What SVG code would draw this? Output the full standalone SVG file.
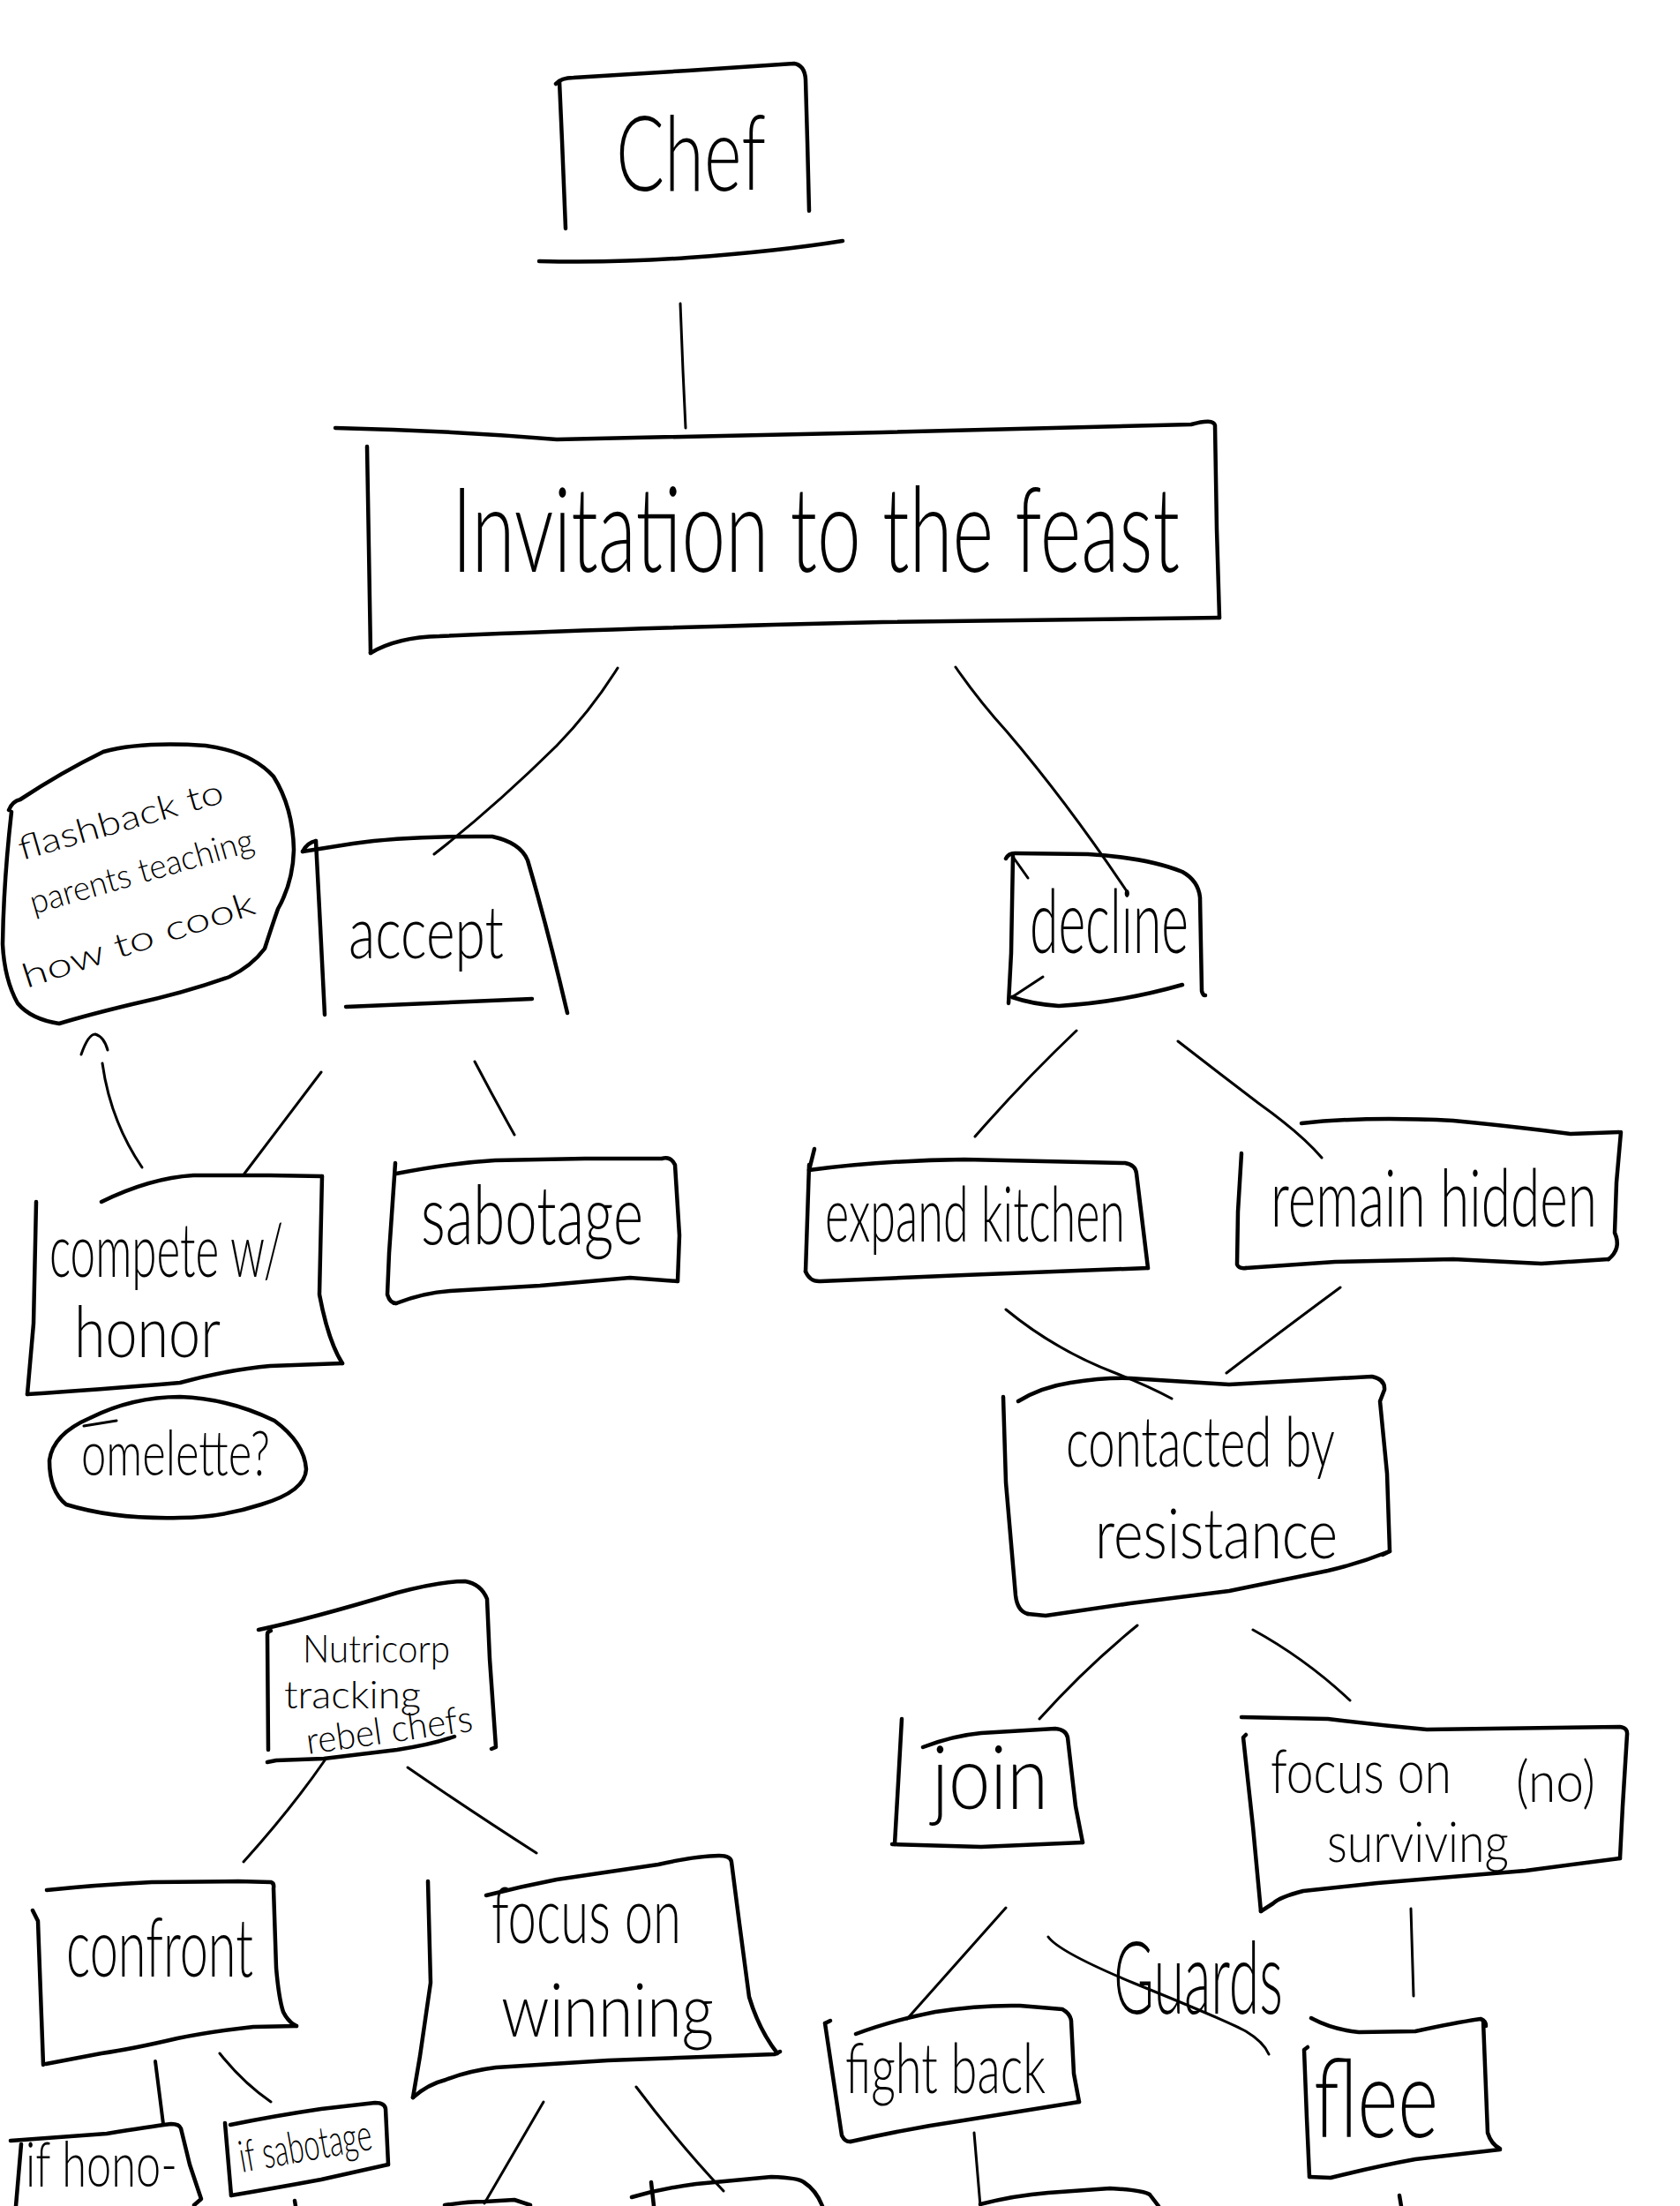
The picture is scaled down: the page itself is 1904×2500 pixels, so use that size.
<svg xmlns="http://www.w3.org/2000/svg" width="1904" height="2500" viewBox="0 0 1904 2500">
<style>
.b{fill:none;stroke:#000;stroke-width:4.5;stroke-linecap:round;stroke-linejoin:round}
.c{fill:none;stroke:#000;stroke-width:3;stroke-linecap:round;stroke-linejoin:round}
.t{font-family:Lato,"Open Sans","DejaVu Sans",sans-serif;font-weight:300;fill:#000}
</style>
<rect width="1904" height="2500" fill="#fff"/>
<g id="connectors">
<path class="c" d="M771,344 L774,420 L777,485"/>
<path class="c" d="M700,757 Q670,805 631,845 Q560,915 492,968"/>
<path class="c" d="M1083,756 Q1110,795 1141,829 Q1210,910 1277,1010"/>
<path class="c" d="M364,1215 L277,1330"/>
<path class="c" d="M538,1203 Q560,1245 583,1286"/>
<path class="c" d="M1220,1168 Q1160,1225 1105,1288"/>
<path class="c" d="M1335,1180 Q1380,1215 1426,1250 Q1475,1285 1498,1312"/>
<path class="c" d="M1140,1484 Q1196,1530 1264,1556 Q1300,1570 1328,1585"/>
<path class="c" d="M1519,1459 Q1450,1510 1390,1556"/>
<path class="c" d="M1289,1842 Q1230,1890 1178,1948"/>
<path class="c" d="M1420,1847 Q1480,1880 1530,1927"/>
<path class="c" d="M368,1995 Q330,2050 276,2110"/>
<path class="c" d="M462,2003 Q530,2050 608,2100"/>
<path class="c" d="M176,2336 L185,2407" style="stroke-width:4"/>
<path class="c" d="M249,2327 Q275,2360 307,2382"/>
<path class="c" d="M616,2382 L549,2497"/>
<path class="c" d="M721,2365 Q770,2430 820,2483"/>
<path class="c" d="M1140,2162 L1028,2288"/>
<path class="c" d="M1599,2163 L1602,2262"/>
<path class="c" d="M1104,2417 L1111,2500"/>
<path class="c" d="M1188,2195 Q1200,2212 1284,2247 Q1390,2290 1412,2302 Q1432,2314 1438,2328"/>
<path class="c" d="M161,1323 Q125,1270 116,1205"/>
<path class="c" d="M92,1195 Q100,1172 108,1172 Q118,1175 122,1190"/>
</g>
<g id="chef">
<path class="b" d="M634,92 L637,160 L641,259"/>
<path class="b" d="M630,95 Q636,88 650,88 L780,80 L900,72 Q912,74 913,90 L915,160 L917,239"/>
<path class="b" d="M611,296 Q700,298 780,292 Q880,285 955,273"/>
<text class="t" x="698" y="216" font-size="118" textLength="170" lengthAdjust="spacingAndGlyphs">Chef</text>
</g>
<g id="invitation">
<path class="b" d="M380,485 Q510,488 631,498 L1000,490 L1350,481 Q1375,474 1377,482 L1379,600 L1382,700"/>
<path class="b" d="M416,506 L418,620 L420,740"/>
<path class="b" d="M420,740 Q450,722 498,721 Q700,712 1000,705 L1382,700"/>
<text class="t" x="512" y="648" font-size="135" textLength="825" lengthAdjust="spacingAndGlyphs">Invitation to the feast</text>
</g>
<g id="flashback">
<path class="b" d="M10,918 Q14,908 23,906 Q70,875 117,852 Q160,840 233,845 Q285,852 310,880 Q332,915 333,963 Q332,1000 315,1030 Q308,1050 300,1075 Q285,1095 260,1107 Q210,1125 150,1138 Q100,1150 67,1160 Q35,1155 20,1137 Q5,1110 3,1070 Q4,1000 13,920"/>
<text class="t" font-size="38" textLength="240" lengthAdjust="spacingAndGlyphs" transform="translate(25,975) rotate(-16)">flashback to</text>
<text class="t" font-size="38" textLength="262" lengthAdjust="spacingAndGlyphs" transform="translate(38,1036) rotate(-16)">parents teaching</text>
<text class="t" font-size="38" textLength="275" lengthAdjust="spacingAndGlyphs" transform="translate(30,1120) rotate(-18)">how to cook</text>
</g>
<g id="accept">
<path class="b" d="M343,965 Q348,955 358,953"/>
<path class="b" d="M343,965 L400,956 Q460,947 558,948 Q590,955 598,975 Q620,1050 643,1148"/>
<path class="b" d="M358,953 L363,1050 L368,1150"/>
<path class="b" d="M392,1141 L603,1132"/>
<text class="t" x="395" y="1086" font-size="82" textLength="176" lengthAdjust="spacingAndGlyphs">accept</text>
</g>
<g id="decline">
<path class="b" d="M1140,973 Q1143,967 1150,967 L1233,968 Q1300,972 1340,988 Q1358,998 1360,1017 L1362,1123 Q1363,1128 1366,1128"/>
<path class="b" d="M1148,970 L1146,1080 L1143,1137"/>
<path class="c" d="M1148,971 L1165,995"/>
<path class="b" d="M1147,1130 Q1170,1138 1200,1140 Q1270,1136 1340,1116"/>
<path class="c" d="M1147,1130 L1182,1107"/>
<text class="t" x="1167" y="1080" font-size="100" textLength="180" lengthAdjust="spacingAndGlyphs">decline</text>
</g>
<g id="compete">
<path class="b" d="M115,1362 Q170,1335 219,1332 L306,1332 L365,1333"/>
<path class="b" d="M365,1333 L362,1467 Q372,1520 388,1545"/>
<path class="b" d="M41,1362 L38,1500 L31,1580"/>
<path class="b" d="M31,1580 Q110,1575 204,1567 Q260,1552 306,1548 L388,1545"/>
<text class="t" x="56" y="1447" font-size="85" textLength="265" lengthAdjust="spacingAndGlyphs">compete w/</text>
<text class="t" x="84" y="1538" font-size="80" textLength="166" lengthAdjust="spacingAndGlyphs">honor</text>
</g>
<g id="omelette">
<path class="b" d="M102,1607 Q150,1583 204,1583 Q260,1585 311,1610 Q345,1635 347,1665 Q346,1690 296,1705 Q250,1720 204,1720 Q130,1722 75,1705 Q56,1690 56,1655 Q60,1625 102,1607 Z"/>
<path class="c" d="M95,1616 L132,1610"/>
<text class="t" x="92" y="1672" font-size="70" textLength="214" lengthAdjust="spacingAndGlyphs">omelette?</text>
</g>
<g id="sabotage">
<path class="b" d="M449,1330 Q510,1318 561,1315 L663,1313 L750,1313 Q760,1310 765,1320 L770,1400 L768,1452"/>
<path class="b" d="M448,1318 L441,1420 L439,1467 Q442,1477 449,1477"/>
<path class="b" d="M449,1477 Q480,1465 510,1463 L612,1457 L714,1448 L768,1452"/>
<text class="t" x="477" y="1410" font-size="92" textLength="252" lengthAdjust="spacingAndGlyphs">sabotage</text>
</g>
<g id="expand-kitchen">
<path class="b" d="M923,1302 L917,1326"/>
<path class="b" d="M917,1326 Q1000,1315 1093,1314 L1275,1318 Q1287,1320 1288,1330 L1301,1437"/>
<path class="b" d="M917,1320 L913,1441"/>
<path class="b" d="M913,1441 Q918,1453 930,1452 L1093,1445 L1301,1437"/>
<text class="t" x="935" y="1407" font-size="86" textLength="340" lengthAdjust="spacingAndGlyphs">expand kitchen</text>
</g>
<g id="remain-hidden">
<path class="b" d="M1475,1273 Q1547,1265 1647,1270 Q1720,1277 1780,1285 L1835,1283"/>
<path class="b" d="M1837,1283 L1832,1340 L1830,1397 Q1838,1415 1823,1427"/>
<path class="b" d="M1407,1307 L1403,1373 L1402,1433 Q1404,1438 1412,1437"/>
<path class="b" d="M1412,1437 L1513,1430 L1647,1427 L1747,1432 L1823,1427"/>
<text class="t" x="1440" y="1390" font-size="90" textLength="370" lengthAdjust="spacingAndGlyphs">remain hidden</text>
</g>
<g id="contacted">
<path class="b" d="M1154,1588 Q1180,1572 1213,1567 Q1250,1561 1281,1562 L1393,1569 L1555,1560 Q1570,1563 1569,1575 L1564,1588 L1572,1670 L1575,1758 L1567,1762"/>
<path class="b" d="M1137,1583 L1140,1680 L1151,1808 Q1153,1826 1165,1829"/>
<path class="b" d="M1575,1758 Q1540,1772 1505,1780 L1393,1803 L1281,1817 L1185,1831 L1165,1829"/>
<text class="t" x="1208" y="1662" font-size="78" textLength="305" lengthAdjust="spacingAndGlyphs">contacted by</text>
<text class="t" x="1241" y="1766" font-size="78" textLength="275" lengthAdjust="spacingAndGlyphs">resistance</text>
</g>
<g id="nutricorp">
<path class="b" d="M293,1847 Q350,1835 450,1805 Q500,1792 527,1792 Q545,1795 552,1812 L555,1880 L562,1980 L557,1982"/>
<path class="b" d="M307,1848 Q303,1849 303,1852 L304,1983"/>
<path class="b" d="M303,1997 L313,1995 L367,1993 L450,1983 Q490,1977 515,1968"/>
<text class="t" x="343" y="1884" font-size="44" textLength="167" lengthAdjust="spacingAndGlyphs">Nutricorp</text>
<text class="t" x="322" y="1936" font-size="44" textLength="155" lengthAdjust="spacingAndGlyphs">tracking</text>
<text class="t" font-size="42" textLength="190" lengthAdjust="spacingAndGlyphs" transform="translate(349,1988) rotate(-8)">rebel chefs</text>
</g>
<g id="confront">
<path class="b" d="M53,2142 Q110,2136 172,2133 L270,2132 L307,2133 Q311,2134 310,2140 L313,2230 Q316,2265 321,2280 Q327,2292 336,2296"/>
<path class="b" d="M37,2165 L43,2177 L49,2340"/>
<path class="b" d="M336,2296 L287,2297 Q240,2302 201,2310 Q150,2322 115,2327 L52,2339"/>
<text class="t" x="75" y="2240" font-size="92" textLength="212" lengthAdjust="spacingAndGlyphs">confront</text>
</g>
<g id="focus-winning">
<path class="b" d="M485,2132 L488,2247 L476,2330 L468,2377"/>
<path class="b" d="M468,2377 Q485,2362 505,2357 Q530,2347 562,2343 L689,2335 L878,2328 L884,2325"/>
<path class="b" d="M551,2148 Q590,2138 631,2130 L746,2113 Q790,2103 815,2103 Q828,2103 829,2110 L838,2180 L849,2263 Q860,2300 881,2327"/>
<text class="t" x="557" y="2202" font-size="88" textLength="215" lengthAdjust="spacingAndGlyphs">focus on</text>
<text class="t" x="568" y="2308" font-size="84" textLength="241" lengthAdjust="spacingAndGlyphs">winning</text>
</g>
<g id="join">
<path class="b" d="M1022,1948 L1018,2020 L1014,2090"/>
<path class="b" d="M1046,1980 Q1080,1967 1112,1964 L1196,1959 Q1208,1960 1210,1969 L1219,2047 L1227,2088"/>
<path class="b" d="M1011,2090 L1112,2093 L1227,2088"/>
<text class="t" x="1056" y="2050" font-size="100" textLength="132" lengthAdjust="spacingAndGlyphs">join</text>
</g>
<g id="focus-surviving">
<path class="b" d="M1407,1946 L1505,1948 Q1560,1955 1617,1960 L1836,1957 Q1845,1958 1844,1966 L1839,2047 L1836,2106"/>
<path class="b" d="M1412,1966 L1409,1969 L1420,2070 L1429,2166"/>
<path class="b" d="M1836,2106 L1729,2120 L1561,2134 L1477,2143 Q1450,2150 1443,2157 L1429,2166"/>
<text class="t" x="1440" y="2032" font-size="68" textLength="205" lengthAdjust="spacingAndGlyphs">focus on</text>
<text class="t" x="1718" y="2042" font-size="66" textLength="90" lengthAdjust="spacingAndGlyphs">(no)</text>
<text class="t" x="1504" y="2110" font-size="64" textLength="206" lengthAdjust="spacingAndGlyphs">surviving</text>
</g>
<g id="fight-back">
<path class="b" d="M935,2293 L941,2290"/>
<path class="b" d="M970,2305 Q1010,2290 1060,2280 Q1110,2272 1156,2273 L1204,2277 Q1213,2282 1214,2290 L1217,2350 L1223,2382"/>
<path class="b" d="M935,2293 L945,2360 L954,2420 Q958,2428 964,2427"/>
<path class="b" d="M964,2427 Q1030,2412 1092,2403 L1223,2382"/>
<text class="t" x="958" y="2372" font-size="78" textLength="227" lengthAdjust="spacingAndGlyphs">fight back</text>
</g>
<g id="guards">
<text class="t" x="1262" y="2282" font-size="115" textLength="192" lengthAdjust="spacingAndGlyphs">Guards</text>
</g>
<g id="flee">
<path class="b" d="M1486,2287 Q1510,2300 1540,2303 L1604,2302 Q1650,2292 1678,2288 Q1684,2290 1684,2296"/>
<path class="b" d="M1681,2290 L1686,2417 Q1690,2430 1700,2435"/>
<path class="b" d="M1482,2320 L1478,2323 L1481,2400 L1484,2467"/>
<path class="b" d="M1484,2467 L1508,2468 Q1560,2455 1604,2447 L1700,2436"/>
<text class="t" x="1489" y="2422" font-size="125" textLength="141" lengthAdjust="spacingAndGlyphs">flee</text>
</g>
<g id="if-honor">
<path class="b" d="M12,2426 L121,2418 Q170,2410 194,2407 Q203,2407 205,2412 L215,2453 L228,2492 L220,2499"/>
<path class="b" d="M24,2430 L18,2500"/>
<text class="t" x="29" y="2478" font-size="70" textLength="172" lengthAdjust="spacingAndGlyphs">if hono-</text>
</g>
<g id="if-sabotage">
<path class="b" d="M255,2406 L262,2488"/>
<path class="b" d="M261,2408 Q310,2398 364,2390 L425,2383 Q436,2383 437,2390 L440,2453"/>
<path class="b" d="M262,2488 Q310,2480 364,2470 L440,2453"/>
<text class="t" font-size="50" textLength="152" lengthAdjust="spacingAndGlyphs" transform="translate(274,2462) rotate(-10)">if sabotage</text>
</g>
<g id="partial-1"><path class="b" d="M334,2494 L335,2500"/></g>
<g id="partial-2"><path class="b" d="M504,2499 Q530,2495 549,2495 L583,2493 L601,2499"/></g>
<g id="partial-3"><path class="b" d="M716,2490 Q750,2480 789,2475 L874,2467 Q905,2468 911,2473 Q925,2482 932,2500"/><path class="b" d="M738,2473 L741,2500"/></g>
<g id="partial-4"><path class="b" d="M1111,2498 Q1150,2488 1188,2485 L1258,2480 Q1295,2482 1303,2487 L1313,2500"/></g>
<g id="partial-5"><path class="b" d="M1586,2488 L1588,2500"/></g>
</svg>
